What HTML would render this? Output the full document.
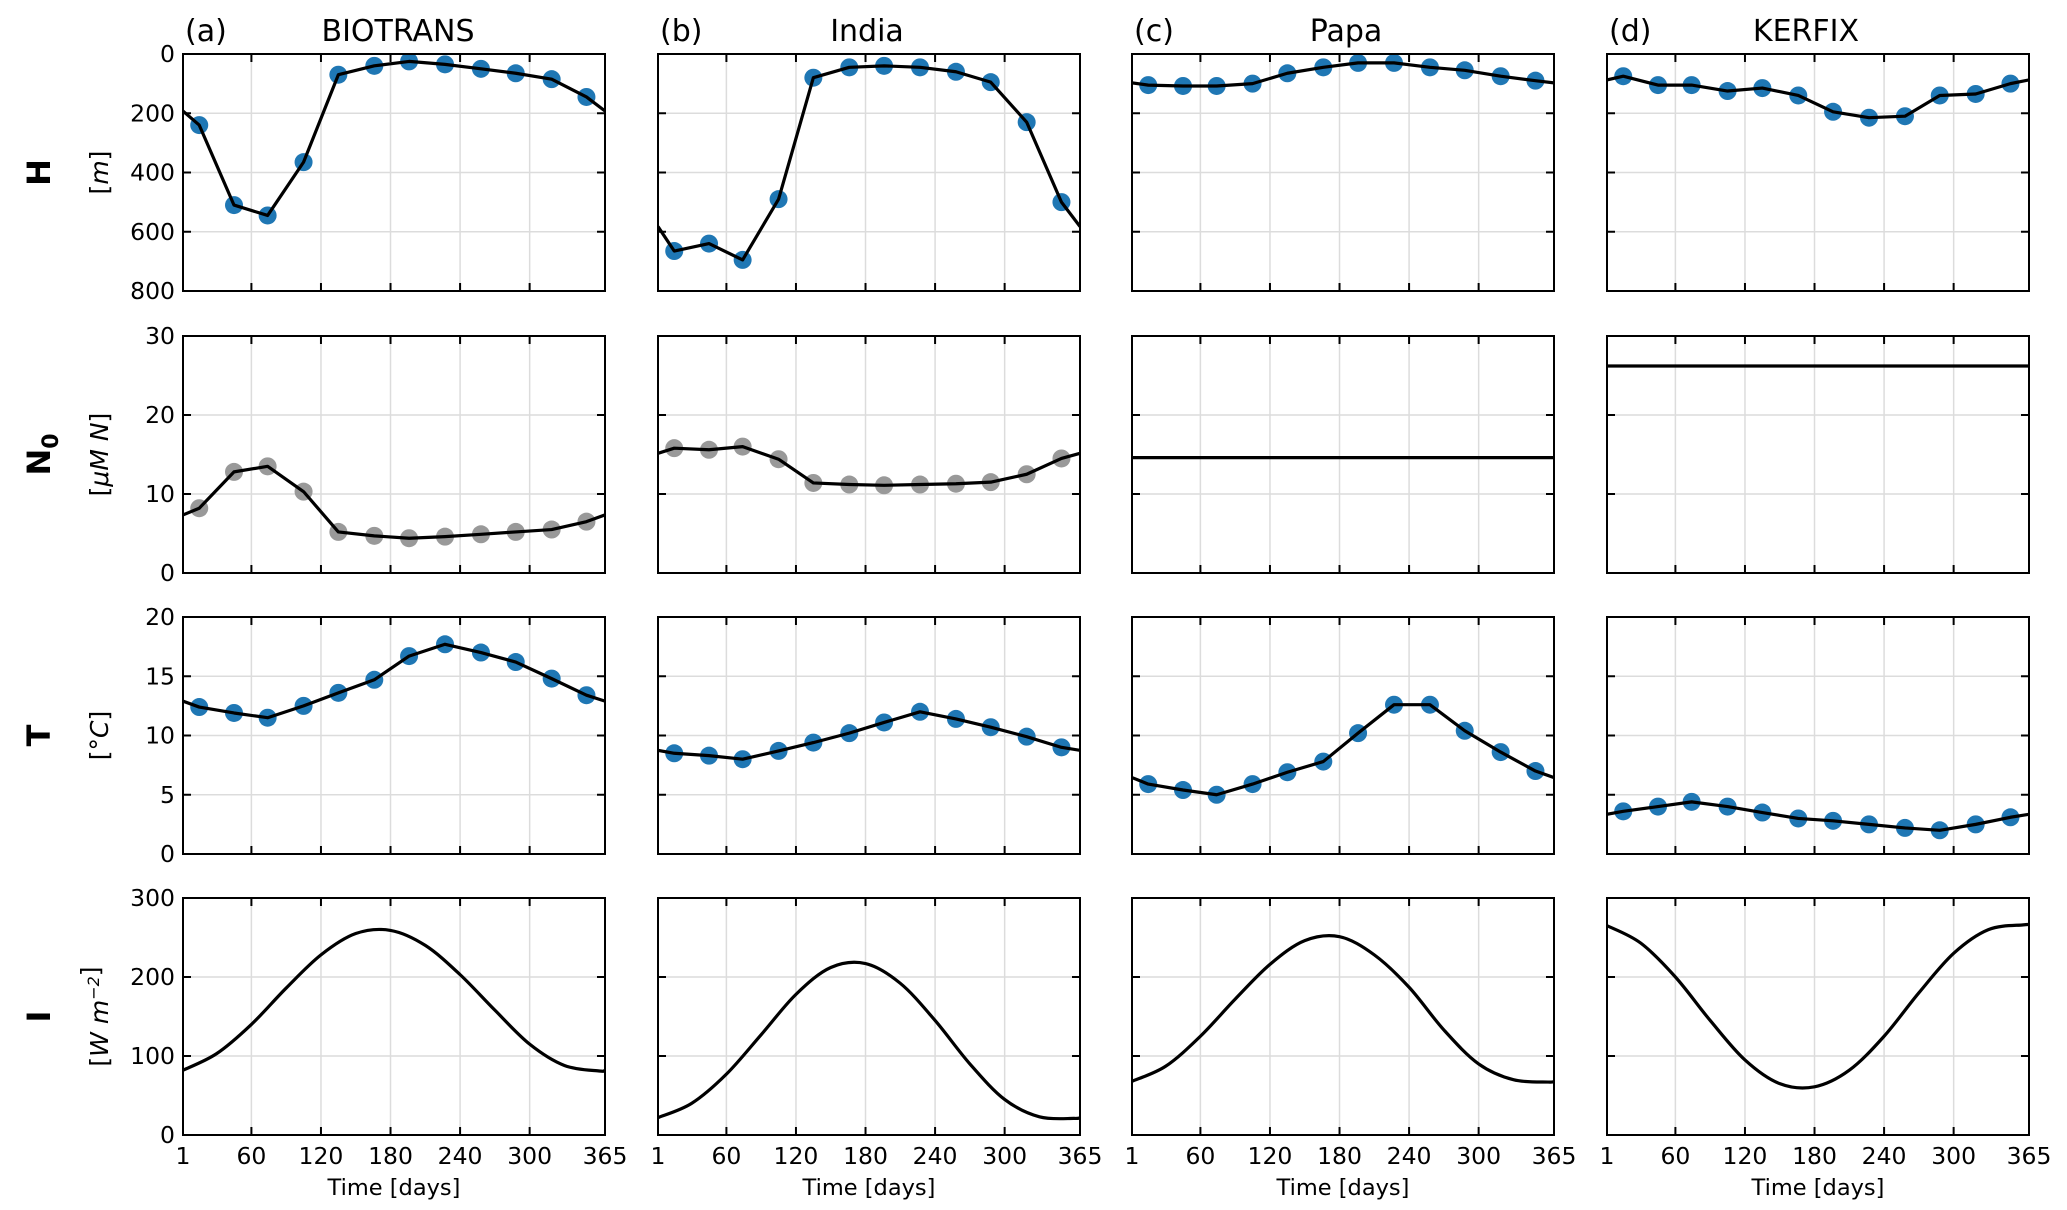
<!DOCTYPE html>
<html><head><meta charset="utf-8"><style>
html,body{margin:0;padding:0;background:#fff}
svg{display:block;font-family:"DejaVu Sans","Liberation Sans",sans-serif}
</style></head><body>
<svg id="fig" width="2067" height="1210" viewBox="0 0 2067 1210" xmlns="http://www.w3.org/2000/svg"></svg>
<script>
const sites = ["BIOTRANS","India","Papa","KERFIX"];
const letters = ["(a)","(b)","(c)","(d)"];
const monthDays = [15,45,74,105,135,166,196,227,258,288,319,349];
const xTicks = [1,60,120,180,240,300,365];
const hTicks = [0,200,400,600,800];
const nTicks = [0,10,20,30];
const tTicks = [0,5,10,15,20];
const iTicks = [0,100,200,300];
const hBiotrans = [240,510,545,365,70,40,25,35,50,65,85,145];
const hIndia = [665,640,695,490,80,45,40,45,60,95,230,500];
const hPapa = [105,108,108,100,65,45,30,30,45,55,75,90];
const hKerfix = [75,105,105,125,115,140,195,215,210,140,135,100];
const nBiotrans = [8.2,12.8,13.5,10.3,5.2,4.7,4.4,4.6,4.9,5.2,5.5,6.5];
const nIndia = [15.8,15.6,16.0,14.4,11.4,11.2,11.1,11.2,11.3,11.5,12.5,14.5];
const nPapa = 14.6;
const nKerfix = 26.2;
const tBiotrans = [12.4,11.9,11.5,12.5,13.6,14.7,16.7,17.7,17.0,16.2,14.8,13.4];
const tIndia = [8.5,8.3,8.0,8.7,9.4,10.2,11.1,12.0,11.4,10.7,9.9,9.0];
const tPapa = [5.9,5.4,5.0,5.9,6.9,7.8,10.2,12.6,12.6,10.4,8.6,7.0];
const tKerfix = [3.6,4.0,4.4,4.0,3.5,3.0,2.8,2.5,2.2,2.0,2.5,3.1];
const iDays = [1,30,60,90,120,150,180,210,240,270,300,330,360,365];
const iBiotrans = [82,103,140,186,228,255,259,240,203,158,115,88,81,82];
const iIndia = [22,40,77,127,178,212,217,192,145,90,45,23,21,22];
const iPapa = [68,87,125,172,216,246,251,228,187,133,90,70,67,68];
const iKerfix = [265,243,200,145,95,65,61,82,125,180,230,260,266,266];

const svg = document.getElementById('fig');
const NS = "http://www.w3.org/2000/svg";
function mk(tag, attrs, parent){const e=document.createElementNS(NS,tag);for(const k in attrs)e.setAttribute(k,attrs[k]);(parent||svg).appendChild(e);return e;}
const colX=[183,658,1132,1607], W=422;
const rowY=[54,336,617,898], H=237;
const rows=[
 {key:"h",ticks:hTicks,min:0,max:800,inv:true,data:[hBiotrans,hIndia,hPapa,hKerfix],dot:"#1f77b4"},
 {key:"n",ticks:nTicks,min:0,max:30,inv:false,data:[nBiotrans,nIndia,nPapa,nKerfix],dot:"#999999"},
 {key:"t",ticks:tTicks,min:0,max:20,inv:false,data:[tBiotrans,tIndia,tPapa,tKerfix],dot:"#1f77b4"},
 {key:"i",ticks:iTicks,min:0,max:300,inv:false,data:[iBiotrans,iIndia,iPapa,iKerfix],dot:null}
];
function catmull(pts){let d="M"+pts[0][0]+","+pts[0][1];for(let i=0;i<pts.length-1;i++){const p0=pts[Math.max(0,i-1)],p1=pts[i],p2=pts[i+1],p3=pts[Math.min(pts.length-1,i+2)];d+=" C"+(p1[0]+(p2[0]-p0[0])/6)+","+(p1[1]+(p2[1]-p0[1])/6)+" "+(p2[0]-(p3[0]-p1[0])/6)+","+(p2[1]-(p3[1]-p1[1])/6)+" "+p2[0]+","+p2[1];}return d;}

rows.forEach((r,ri)=>{
 const y0=rowY[ri];
 const ys=v=>r.inv? y0+(v-r.min)/(r.max-r.min)*H : y0+H-(v-r.min)/(r.max-r.min)*H;
 for(let c=0;c<4;c++){
  const x0=colX[c];
  const xs=d=>x0+(d-1)/364*W;
  const g=mk('g',{});
  
  
  const clipId='clip'+ri+c;
  const cp=mk('clipPath',{id:clipId},g);mk('rect',{x:x0,y:y0,width:W,height:H},cp);
  xTicks.forEach(t=>{const gl=mk('line',{x1:xs(t),x2:xs(t),y1:y0,y2:y0+H,stroke:"#dcdcdc","stroke-width":1.5},g);});
  r.ticks.forEach(t=>{const gl=mk('line',{x1:x0,x2:x0+W,y1:ys(t),y2:ys(t),stroke:"#dcdcdc","stroke-width":1.5},g);});
  const cg=mk('g',{'clip-path':'url(#'+clipId+')'},g);
  const data=r.data[c];
  if(r.key==="i"){
   const pts=iDays.map((d,k)=>[xs(d),ys(data[k])]);
   const p=mk('path',{d:catmull(pts),fill:"none",stroke:"#000","stroke-width":3.2},cg);
   
  } else if(typeof data==="number"){
   const p=mk('line',{x1:x0,x2:x0+W,y1:ys(data),y2:ys(data),stroke:"#000","stroke-width":3.2},cg);
   
  } else {
   const wrap=(data[0]+data[11])/2;
   const pts=[[xs(1),ys(wrap)]].concat(monthDays.map((d,k)=>[xs(d),ys(data[k])])).concat([[xs(365),ys(wrap)]]);
   data.forEach((v,k)=>{const cc=mk('circle',{cx:xs(monthDays[k]),cy:ys(v),r:9,fill:r.dot},cg);});
   const p=mk('polyline',{points:pts.map(q=>q.join(",")).join(" "),fill:"none",stroke:"#000","stroke-width":3.2,"stroke-linejoin":"round"},cg);
   
  }
  const fr=mk('rect',{x:x0,y:y0,width:W,height:H,fill:"none",stroke:"#000","stroke-width":2},g);
  
  xTicks.forEach(t=>{mk('line',{x1:xs(t),x2:xs(t),y1:y0+H,y2:y0+H-8,stroke:"#000","stroke-width":2},g);mk('line',{x1:xs(t),x2:xs(t),y1:y0,y2:y0+8,stroke:"#000","stroke-width":2},g);});
  r.ticks.forEach(t=>{mk('line',{x1:x0,x2:x0+8,y1:ys(t),y2:ys(t),stroke:"#000","stroke-width":2},g);mk('line',{x1:x0+W,x2:x0+W-8,y1:ys(t),y2:ys(t),stroke:"#000","stroke-width":2},g);});
  if(c===0){r.ticks.forEach(t=>{const tx=mk('text',{x:x0-8,y:ys(t)+8,"text-anchor":"end","font-size":23.5},g);tx.textContent=t;});}
  if(ri===3){
   xTicks.forEach(t=>{const tx=mk('text',{x:xs(t),y:y0+H+29,"text-anchor":"middle","font-size":23.5},g);tx.textContent=t;});
   const xt=mk('text',{x:x0+W/2,y:y0+H+60,"text-anchor":"middle","font-size":22.5},g);xt.textContent="Time [days]";
  }
 }
});
const titleX=[398,867,1346,1806];
for(let c=0;c<4;c++){
 const a=mk('text',{x:colX[c]+2,y:41,"font-size":30});a.textContent=letters[c];
 const t=mk('text',{x:titleX[c],y:41,"text-anchor":"middle","font-size":30});t.textContent=sites[c];
}
const rowLab=[["H","[<tspan font-style='italic'>m</tspan>]"],["N","[<tspan font-style='italic'>μM N</tspan>]"],["T","[°<tspan font-style='italic'>C</tspan>]"],["I","[<tspan font-style='italic'>W m</tspan><tspan font-size='16' dy='-9' font-style='italic'>−2</tspan>]"]];
rowLab.forEach((l,i)=>{
 const cy=rowY[i]+H/2;
 const b=mk('text',{transform:`translate(50,${cy}) rotate(-90)`,"text-anchor":"middle","font-size":32,"font-weight":"bold"});
 b.innerHTML = i===1 ? "N<tspan font-size='22' dy='8'>0</tspan>" : l[0];
 
 const u=mk('text',{transform:`translate(108,${cy}) rotate(-90)`,"text-anchor":"middle","font-size":25});
 u.innerHTML=l[1];
});
</script>
</body></html>
